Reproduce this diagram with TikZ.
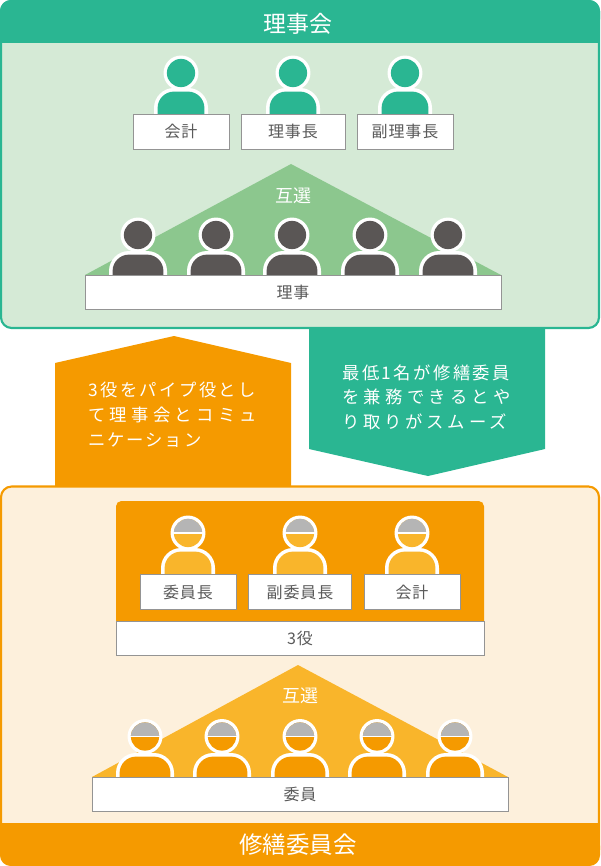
\documentclass[tikz,border=0pt]{standalone}
\usepackage{fontspec}
\setmainfont{Noto Sans CJK JP}
\definecolor{teal}{HTML}{2AB692}
\definecolor{palegreen}{HTML}{D5EAD6}
\definecolor{midgreen}{HTML}{8CC78E}
\definecolor{darkgray}{HTML}{5A5655}
\definecolor{orng}{HTML}{F59A00}
\definecolor{lightorng}{HTML}{F9B52B}
\definecolor{cream}{HTML}{FDF0DC}
\definecolor{hat}{HTML}{B5B5B5}
\definecolor{txt}{HTML}{5A5A5A}
\newcommand{\spaced}[2]{{\addfontfeature{LetterSpace=#1}#2}}
\tikzset{
  x=0.75pt,y=-0.75pt,
  plate/.style={draw=black!42,line width=0.6pt,fill=white,inner sep=0pt},
  boxtext/.style={text=txt,font=\fontsize{12pt}{13pt}\selectfont\addfontfeature{LetterSpace=6}},
  title/.style={text=white,font=\fontsize{17.2pt}{18pt}\selectfont,inner sep=0pt},
  mutual/.style={text=white,font=\fontsize{13.5pt}{14pt}\selectfont,inner sep=0pt},
  arrowtext/.style={text=white,font=\fontsize{13pt}{14pt}\selectfont,inner sep=0pt,anchor=west},
}
% person: #1 x, #2 head y, #3 body top (outer), #4 bottom y, #5 body half-width(outer), #6 fill
\newcommand{\person}[6]{%
  \fill[white] (#1-#5,#4) -- (#1-#5,#3+20) arc[start angle=180,end angle=90,radius=15pt] -- (#1+#5-20,#3) arc[start angle=90,end angle=0,radius=15pt] -- (#1+#5,#4) -- cycle;
  \fill[#6] (#1-#5+3.6,#4) -- (#1-#5+3.6,#3+20) arc[start angle=180,end angle=90,radius=12.3pt] -- (#1+#5-20,#3+3.6) arc[start angle=90,end angle=0,radius=12.3pt] -- (#1+#5-3.6,#4) -- cycle;
  \fill[white] (#1,#2) circle[radius=13.1pt];
  \fill[#6] (#1,#2) circle[radius=10.6pt];
}
% helmet person: #1 x, #2 head y, #3 body top, #4 bottom, #5 half-width, #6 body fill
\newcommand{\helmet}[6]{%
  \person{#1}{#2}{#3}{#4}{#5}{#6}
  \begin{scope}
    \clip (#1-20,#2-20) rectangle (#1+20,#2);
    \fill[hat] (#1,#2) circle[radius=10.6pt];
  \end{scope}
  \draw[white,line width=1.4pt] (#1-15,#2) -- (#1+15,#2);
}
\begin{document}
\begin{tikzpicture}
\useasboundingbox (0,0) rectangle (600,866);
% top panel
\draw[draw=teal,line width=1.6pt,fill=palegreen,rounded corners=8pt] (1,1) rectangle (599,328);
\fill[teal,rounded corners=8pt] (0,0) rectangle (600,30);
\fill[teal] (0,15) rectangle (600,43);
\node[title] (tt) at (298,23.5) {理事会};
% officers
\person{181}{73}{88}{114}{27}{teal}
\person{293}{73}{88}{114}{27}{teal}
\person{405}{73}{88}{114}{27}{teal}
\node[plate,minimum width=72pt,minimum height=26.25pt,boxtext] (a1) at (181,131.5) {会計};
\node[plate,minimum width=78pt,minimum height=26.25pt,boxtext] (a2) at (293,131.5) {理事長};
\node[plate,minimum width=72pt,minimum height=26.25pt,boxtext] (a3) at (405,131.5) {副理事長};
% triangle
\fill[midgreen] (291,164) -- (501,275) -- (85,275) -- cycle;
\node[mutual] (m1) at (293,196) {互選};
\person{138}{235}{251}{275}{29}{darkgray}
\person{216}{235}{251}{275}{29}{darkgray}
\person{292}{235}{251}{275}{29}{darkgray}
\person{370}{235}{251}{275}{29}{darkgray}
\person{448}{235}{251}{275}{29}{darkgray}
\node[plate,minimum width=312pt,minimum height=25.5pt,boxtext] (b1) at (293,292) {理事};
% arrows
\fill[orng] (55,487) -- (55,363) -- (174,336) -- (291,363) -- (291,487) -- cycle;
\fill[teal] (309,329) -- (545,329) -- (545,449) -- (428,476) -- (309,449) -- cycle;
\node[arrowtext] (o1) at (88,390) {\spaced{14}{3役をパイプ役とし}};
\node[arrowtext] (o2) at (88,415) {\spaced{25}{て理事会とコミュ}};
\node[arrowtext] (o3) at (88,440) {\spaced{11}{ニケーション}};
\node[arrowtext] (g1) at (342,373) {\spaced{14}{最低1名が修繕委員}};
\node[arrowtext] (g2) at (342,397) {\spaced{25}{を兼務できるとや}};
\node[arrowtext] (g3) at (342,422) {\spaced{22}{り取りがスムーズ}};
% bottom panel
\draw[draw=orng,line width=1.6pt,fill=cream,rounded corners=8pt] (1,486.5) rectangle (599,860);
\fill[orng,rounded corners=8pt] (0,835) rectangle (600,866);
\fill[orng] (0,823) rectangle (600,850);
\node[title,font=\fontsize{17.6pt}{18pt}\selectfont] (bt) at (298,844.5) {修繕委員会};
% inner panel
\fill[orng,rounded corners=4pt] (116,501) rectangle (484,630);
\helmet{188}{533}{548}{575}{27}{lightorng}
\helmet{300}{533}{548}{575}{27}{lightorng}
\helmet{412}{533}{548}{575}{27}{lightorng}
\node[plate,minimum width=72pt,minimum height=25.75pt,boxtext] (c1) at (188,592) {委員長};
\node[plate,minimum width=77.25pt,minimum height=25.75pt,boxtext] (c2) at (300,592) {副委員長};
\node[plate,minimum width=72pt,minimum height=25.75pt,boxtext] (c3) at (412,592) {会計};
\node[plate,minimum width=276pt,minimum height=25.5pt,boxtext] (c4) at (300,638) {3役};
% lower triangle
\fill[lightorng] (298,665) -- (508,777) -- (92,777) -- cycle;
\node[mutual] (m2) at (300,695.5) {互選};
\helmet{145}{736.5}{753}{777}{29}{orng}
\helmet{222}{736.5}{753}{777}{29}{orng}
\helmet{300}{736.5}{753}{777}{29}{orng}
\helmet{377}{736.5}{753}{777}{29}{orng}
\helmet{455}{736.5}{753}{777}{29}{orng}
\node[plate,minimum width=312pt,minimum height=25.5pt,boxtext] (d1) at (300,794) {委員};
\end{tikzpicture}
\end{document}
